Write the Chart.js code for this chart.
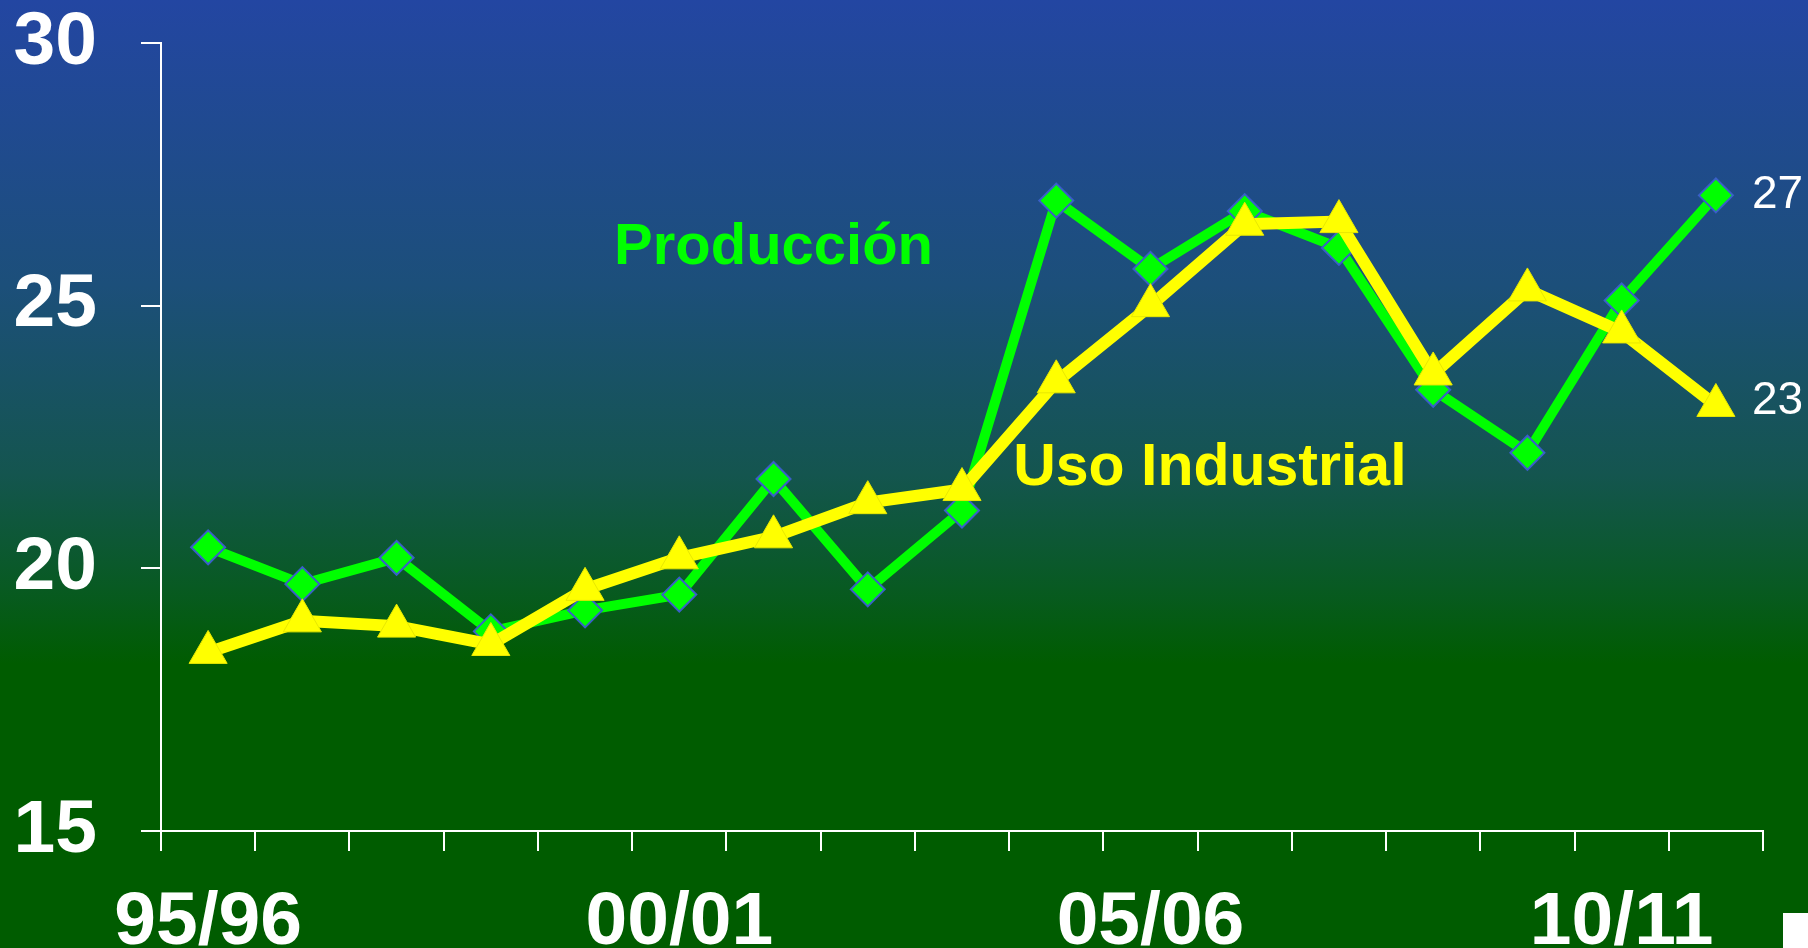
<!DOCTYPE html>
<html>
<head>
<meta charset="utf-8">
<script src="https://cdn.jsdelivr.net/npm/chart.js@4/dist/chart.umd.min.js"></script>
<style>
  html, body { margin: 0; padding: 0; background: #005c00; }
  #wrap { width: 1808px; height: 948px; }
</style>
</head>
<body>
<div id="wrap"><canvas id="chart"></canvas></div>
<script>
const campanas = ['95/96', '96/97', '97/98', '98/99', '99/00', '00/01', '01/02', '02/03', '03/04',
  '04/05', '05/06', '06/07', '07/08', '08/09', '09/10', '10/11', '11/12'];
const produccion = [20.4, 19.7, 20.2, 18.8, 19.2, 19.5, 21.7, 19.6, 21.1, 27.0, 25.7, 26.8, 26.1, 23.4, 22.2, 25.1, 27.1];
const usoIndustrial = [18.4, 19.0, 18.9, 18.55, 19.6, 20.2, 20.6, 21.25, 21.5, 23.55, 25.0, 26.55, 26.6, 23.7, 25.3, 24.5, 23.1];
const yTicks = [15, 20, 25, 30];

const FONT = "'Liberation Sans', Arial, sans-serif";

// fondo degradado azul -> verde
const fondo = {
  id: 'fondo',
  beforeDraw(chart) {
    const ctx = chart.ctx;
    const g = ctx.createLinearGradient(0, 0, 0, chart.height);
    g.addColorStop(0, '#2346a2');
    g.addColorStop(0.3, '#1c4f7a');
    g.addColorStop(0.5, '#14554f');
    g.addColorStop(0.62, '#085a22');
    g.addColorStop(0.7, '#005c00');
    g.addColorStop(1, '#005c00');
    ctx.save();
    ctx.fillStyle = g;
    ctx.fillRect(0, 0, chart.width, chart.height);
    ctx.restore();
  }
};

// rótulos de series y valores finales
const rotulos = {
  id: 'rotulos',
  afterDraw(chart) {
    const ctx = chart.ctx;
    const x = chart.scales.x, y = chart.scales.y;
    ctx.save();
    ctx.textAlign = 'center';
    ctx.textBaseline = 'middle';
    ctx.font = 'bold 58px ' + FONT;
    ctx.fillStyle = '#00ff00';
    ctx.fillText('Producción', x.getPixelForValue(6), y.getPixelForValue(26.1));
    ctx.font = 'bold 59px ' + FONT;
    ctx.fillStyle = '#ffff00';
    ctx.fillText('Uso Industrial', x.getPixelForValue(10.63), y.getPixelForValue(21.9));

    const last = campanas.length - 1;
    ctx.textAlign = 'left';
    ctx.font = '46px ' + FONT;
    ctx.fillStyle = '#ffffff';
    ctx.fillText(Math.round(produccion[last]), x.getPixelForValue(last) + 36, y.getPixelForValue(produccion[last]));
    ctx.fillText(Math.round(usoIndustrial[last]), x.getPixelForValue(last) + 36, y.getPixelForValue(usoIndustrial[last]) - 4);

    ctx.fillRect(chart.width - 25, chart.height - 35, 25, 35);
    ctx.restore();
  }
};

new Chart(document.getElementById('chart'), {
  type: 'line',
  data: {
    labels: campanas,
    datasets: [
      {
        label: 'Uso Industrial',
        data: usoIndustrial,
        order: 0,
        borderColor: '#ffff00',
        borderWidth: 12,
        pointStyle: 'triangle',
        pointRadius: 22,
        pointBackgroundColor: '#ffff00',
        pointBorderColor: '#e8e800',
        pointBorderWidth: 1,
        tension: 0
      },
      {
        label: 'Producción',
        data: produccion,
        order: 1,
        borderColor: '#00ff00',
        borderWidth: 10,
        pointStyle: 'rectRot',
        pointRadius: 17,
        pointBackgroundColor: '#00ff00',
        pointBorderColor: '#3a5fc8',
        pointBorderWidth: 2,
        tension: 0
      }
    ]
  },
  options: {
    responsive: true,
    maintainAspectRatio: false,
    animation: false,
    events: [],
    layout: { padding: { left: 15, right: 45, top: 0, bottom: 0 } },
    plugins: {
      legend: { display: false },
      tooltip: { enabled: false }
    },
    scales: {
      x: {
        offset: true,
        grid: { offset: true, drawOnChartArea: false, drawTicks: true, tickLength: 20, color: '#ffffff', lineWidth: 2 },
        border: { display: true, color: '#ffffff', width: 2 },
        ticks: {
          autoSkip: false,
          maxRotation: 0,
          padding: 43,
          color: '#ffffff',
          font: { family: FONT, size: 75, weight: 'bold', lineHeight: 0.79 },
          callback: (v, i) => (i % 5 === 0 ? campanas[i] : '')
        },
        afterFit: (s) => { s.height = 117; s.paddingLeft = 0; s.paddingRight = 0; }
      },
      y: {
        min: 15,
        max: 30,
        afterBuildTicks: (axis) => { axis.ticks = yTicks.map(v => ({ value: v })); },
        grid: { drawOnChartArea: false, drawTicks: true, tickLength: 20, color: '#ffffff', lineWidth: 2 },
        border: { display: true, color: '#ffffff', width: 2 },
        ticks: {
          padding: 44,
          color: '#ffffff',
          font: { family: FONT, size: 75, weight: 'bold' }
        },
        afterFit: (s) => { s.width = 146; s.paddingTop = 43; s.paddingBottom = 0; }
      }
    }
  },
  plugins: [fondo, rotulos]
});
</script>
</body>
</html>
